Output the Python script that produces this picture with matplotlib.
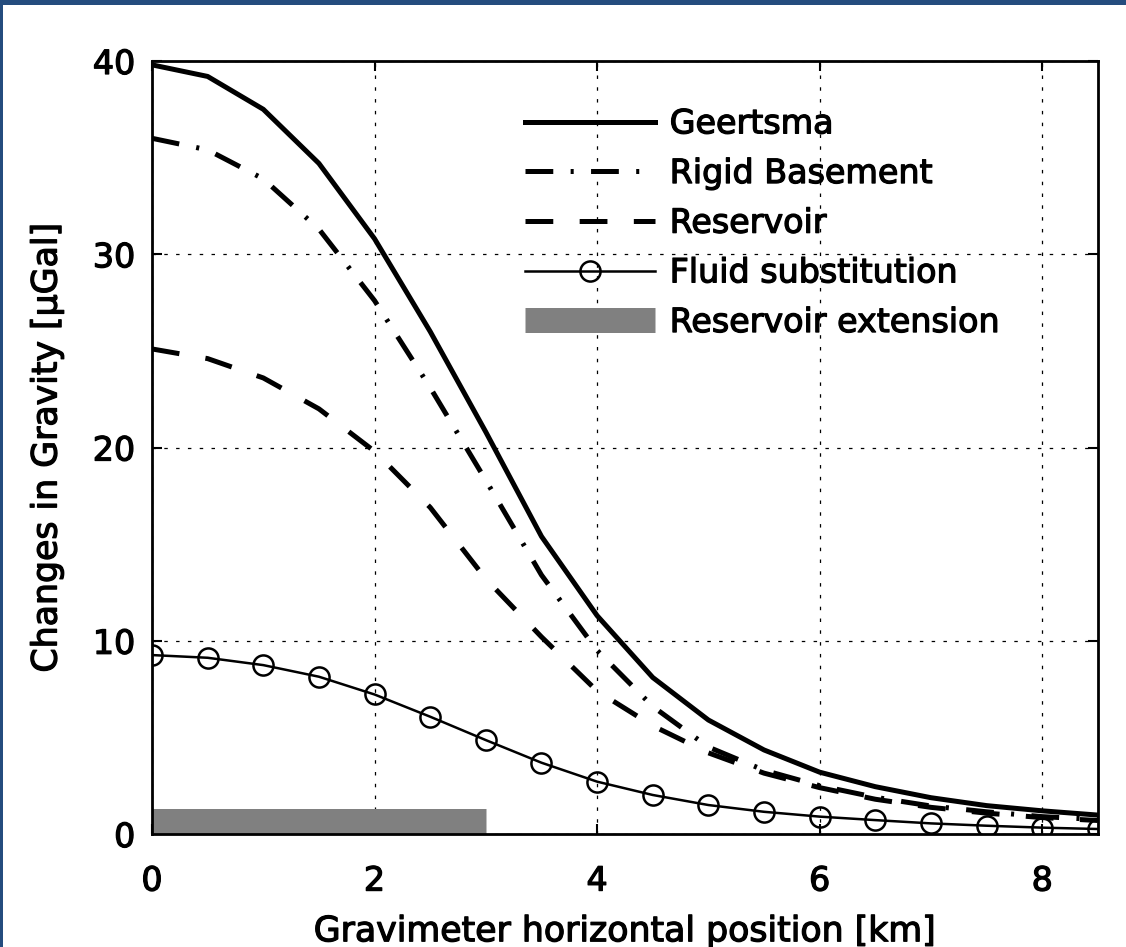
import matplotlib
matplotlib.use('Agg')
import matplotlib.pyplot as plt
import matplotlib.patheffects as pe
from matplotlib.patches import Rectangle

plt.rcParams['font.family'] = ['DejaVu Sans']
plt.rcParams['lines.scale_dashes'] = False

# gravimeter positions [km]
x = [0, 0.5, 1, 1.5, 2, 2.5, 3, 3.5, 4, 4.5, 5, 5.5, 6, 6.5, 7, 7.5, 8, 8.5]

geertsma = [39.8, 39.2, 37.5, 34.7, 30.8, 26.0, 20.8, 15.4, 11.3, 8.1,
            5.9, 4.35, 3.2, 2.45, 1.88, 1.47, 1.2, 0.98]
rigid = [36.0, 35.4, 33.9, 31.3, 27.6, 23.1, 18.3, 13.4, 9.5, 6.6,
         4.5, 3.3, 2.5, 1.9, 1.45, 1.15, 0.9, 0.75]
reservoir = [25.1, 24.6, 23.6, 22.0, 19.8, 16.9, 13.2, 10.2, 7.4, 5.6,
             4.2, 3.15, 2.4, 1.8, 1.38, 1.08, 0.85, 0.7]
fluid = [9.26, 9.12, 8.74, 8.14, 7.22, 6.07, 4.86, 3.69, 2.71, 2.02,
         1.5, 1.15, 0.9, 0.72, 0.55, 0.43, 0.33, 0.26]

ext_x = [0, 3]
ext_y = [0.65, 0.65]

thick = [pe.withStroke(linewidth=0.9, foreground='k')]

fig = plt.figure(figsize=(11.26, 9.47), dpi=100)
ax = fig.add_axes([0.135, 0.1193, 0.84, 0.8163])

ax.plot(x, geertsma, color='k', lw=3.6, label='Geertsma')
ax.plot(x, rigid, color='k', lw=3.6, dashes=(20, 12.5, 2.2, 12.5),
        dash_capstyle='butt', label='Rigid Basement')
ax.plot(x, reservoir, color='k', lw=3.6, dashes=(20, 19),
        dash_capstyle='butt', label='Reservoir')
ax.plot(x, fluid, color='k', lw=1.8, marker='o', ms=14.5, mfc='none',
        mew=1.8, label='Fluid substitution')
ax.plot(ext_x, ext_y, color='#808080', lw=18, solid_capstyle='butt',
        label='Reservoir extension')

ax.set_xlim(0, 8.5)
ax.set_ylim(0, 40)
ax.set_xticks([0, 2, 4, 6, 8])
ax.set_yticks([0, 10, 20, 30, 40])
ax.grid(True, color='k', lw=0.9, linestyle=(0, (2.5, 6)))
ax.tick_params(direction='in', top=True, right=True, length=7, width=1.5,
               labelsize=24)
ax.tick_params(axis='x', pad=22)
ax.tick_params(axis='y', pad=12)
for s in ax.spines.values():
    s.set_linewidth(2)

ax.set_xlabel('Gravimeter horizontal position [km]', fontsize=25, labelpad=12,
              path_effects=thick)
ax.set_ylabel('Changes in Gravity [\u03bcGal]', fontsize=25, labelpad=21,
              path_effects=thick)
for lab in ax.get_xticklabels() + ax.get_yticklabels():
    lab.set_path_effects(thick)

leg = ax.legend(loc='upper left', bbox_to_anchor=(0.394, 0.94), frameon=False,
                fontsize=24, handlelength=3.9, handletextpad=0.45,
                labelspacing=0.5, borderpad=0, borderaxespad=0)
for t in leg.get_texts():
    t.set_path_effects(thick)

# blue frame strips at top and left
fig.add_artist(Rectangle((0, 1 - 5 / 947), 1, 5 / 947, transform=fig.transFigure,
                         color='#244c7e', lw=0))
fig.add_artist(Rectangle((0, 0), 3 / 1126, 1, transform=fig.transFigure,
                         color='#244c7e', lw=0))

fig.savefig('out.png', dpi=100)
